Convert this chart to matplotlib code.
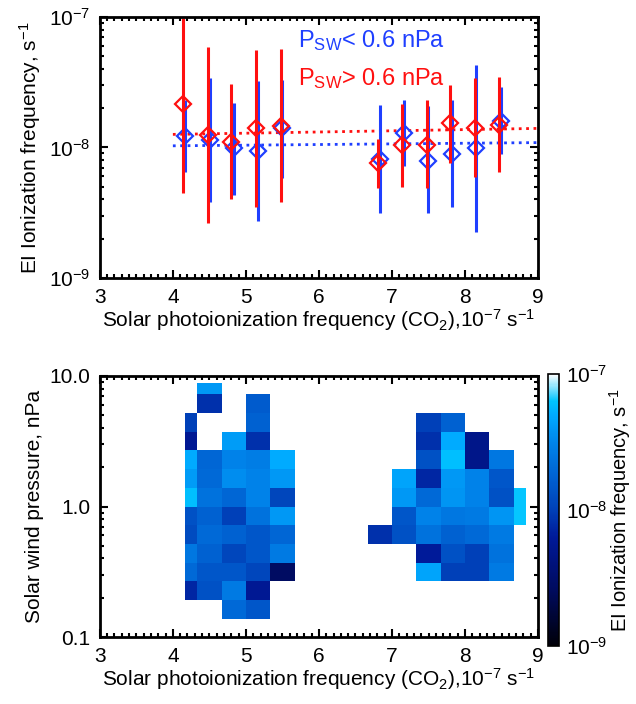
import numpy as np
import matplotlib
matplotlib.use("Agg")
import matplotlib.pyplot as plt
from matplotlib.colors import LinearSegmentedColormap, LogNorm
from matplotlib.ticker import MultipleLocator, LogLocator, NullFormatter

plt.rcParams['font.family'] = ['Liberation Sans', 'DejaVu Sans']
plt.rcParams['mathtext.fontset'] = 'custom'
plt.rcParams['mathtext.rm'] = 'Liberation Sans'
plt.rcParams['mathtext.it'] = 'Liberation Sans'

# ---- top panel data ----
red_x = [4.14, 4.475, 4.80, 5.137, 5.475, 6.81, 7.133, 7.475, 7.80, 8.137, 8.47]
red_y = [2.14e-8, 1.25e-8, 1.11e-8, 1.40e-8, 1.46e-8, 7.57e-9, 1.04e-8, 1.04e-8, 1.53e-8, 1.42e-8, 1.49e-8]
red_hi = [9.8e-8, 5.86e-8, 3.07e-8, 5.6e-8, 5.65e-8, 1.17e-8, 2.14e-8, 2.31e-8, 3.01e-8, 3.39e-8, 3.45e-8]
red_lo = [4.45e-9, 2.62e-9, 4.0e-9, 3.5e-9, 3.8e-9, 4.87e-9, 5.0e-9, 4.87e-9, 7.57e-9, 5.9e-9, 6.5e-9]

blue_x = [4.17, 4.508, 4.84, 5.17, 5.50, 6.83, 7.16, 7.49, 7.82, 8.15, 8.49]
blue_y = [1.23e-8, 1.14e-8, 9.86e-9, 9.46e-9, 1.40e-8, 8.13e-9, 1.28e-8, 7.93e-9, 8.9e-9, 9.86e-9, 1.60e-8]
blue_hi = [2.31e-8, 3.39e-8, 2.2e-8, 3.25e-8, 3.29e-8, 2.12e-8, 2.29e-8, 2.06e-8, 2.29e-8, 4.29e-8, 2.89e-8]
blue_lo = [6.5e-9, 3.8e-9, 4.32e-9, 2.75e-9, 5.87e-9, 3.13e-9, 7.26e-9, 3.13e-9, 3.5e-9, 2.24e-9, 8.9e-9]

fit_x = [4.0, 9.0]
red_fit = [1.26e-8, 1.40e-8]
blue_fit = [1.03e-8, 1.09e-8]

# ---- bottom panel data ----
x_edges = [4.17, 4.33, 4.67, 5.0, 5.33, 5.67, 6.67, 7.0, 7.33, 7.67, 8.0, 8.33, 8.67, 8.84]
p_edges = [0.138, 0.192, 0.267, 0.371, 0.516, 0.72, 1.0, 1.39, 1.94, 2.69, 3.75, 5.21, 7.26, 8.8]
n = np.nan
# log10 of EI ionization frequency, rows from top (highest pressure) to bottom
log_freq = [
    [n, -7.40, n, n, n, n, n, n, n, n, n, n, n],
    [n, -8.08, n, -7.80, n, n, n, n, n, n, n, n, n],
    [-8.00, n, n, -7.76, n, n, n, n, -8.00, -7.76, n, n, n],
    [-8.24, n, -7.38, -8.08, n, n, n, n, -8.08, -7.30, -8.30, n, n],
    [-7.30, -7.72, -7.52, -7.56, -7.30, n, n, n, -7.88, -7.22, -8.30, -7.60, n],
    [-7.38, -7.70, -7.46, -7.52, -7.40, n, n, -7.34, -8.14, -7.40, -7.52, -7.84, n],
    [-7.22, -7.64, -7.72, -7.52, -7.96, n, n, -7.40, -7.70, -7.42, -7.52, -7.88, -7.20],
    [-7.88, -7.76, -8.00, -7.64, -7.40, n, n, -7.84, -7.52, -7.60, -7.58, -7.42, -7.20],
    [-7.92, -7.70, -7.76, -7.84, -7.72, n, -8.08, -7.88, -7.64, -7.76, -7.70, -7.58, n],
    [-7.60, -7.76, -7.96, -7.84, -7.58, n, n, n, -8.20, -7.88, -8.00, -7.64, n],
    [-7.70, -7.84, -7.84, -7.96, -8.56, n, n, n, -7.34, -8.00, -8.00, -7.58, n],
    [-8.14, -7.88, -7.58, -8.24, n, n, n, n, n, n, n, n, n],
    [n, n, -7.70, -7.84, n, n, n, n, n, n, n, n, n],
]

blue_c = '#1f3fff'
red_c = '#ff1010'
xlabel = r'Solar photoionization frequency (CO$_2$),10$^{-7}$ s$^{-1}$'
fs = 15

cmap = LinearSegmentedColormap.from_list('ei', [
    (0.00, (0.0, 0.0, 0.03)),
    (0.20, (0.0, 0.04, 0.36)),
    (0.40, (0.0, 0.10, 0.60)),
    (0.50, (0.0, 0.25, 0.72)),
    (0.62, (0.0, 0.38, 0.82)),
    (0.75, (0.0, 0.52, 0.92)),
    (0.85, (0.0, 0.67, 1.0)),
    (0.90, (0.0, 0.77, 1.0)),
    (1.00, (1.0, 1.0, 1.0)),
])

fig = plt.figure(figsize=(6.36, 7.04), dpi=100)
ax1 = fig.add_axes([0.157, 0.605, 0.689, 0.371])
ax2 = fig.add_axes([0.157, 0.095, 0.689, 0.371])
cax = fig.add_axes([0.862, 0.082, 0.017, 0.387])


def style_axes(ax):
    for s in ax.spines.values():
        s.set_linewidth(2)
    ax.tick_params(which='both', direction='in', top=True, right=True, labelsize=fs, width=1.5)
    ax.tick_params(which='major', length=6, pad=7)
    ax.tick_params(which='minor', length=3)
    ax.set_xlim(3, 9)
    ax.xaxis.set_major_locator(MultipleLocator(1))
    ax.xaxis.set_minor_locator(MultipleLocator(0.1))
    ax.set_xlabel(xlabel, fontsize=fs, labelpad=0)


# top panel
ax1.set_yscale('log')
ax1.plot(fit_x, blue_fit, ':', color=blue_c, lw=2)
ax1.plot(fit_x, red_fit, ':', color=red_c, lw=2)
for xs, ys, lo, hi, c in [(blue_x, blue_y, blue_lo, blue_hi, blue_c), (red_x, red_y, red_lo, red_hi, red_c)]:
    ax1.vlines(xs, lo, hi, color=c, lw=2.2)
    ax1.plot(xs, ys, 'D', ms=8, mfc='none', mec=c, mew=1.6, ls='none')
ax1.set_ylim(1e-9, 1e-7)
ax1.yaxis.set_minor_locator(LogLocator(base=10, subs=np.arange(2, 10), numticks=20))
ax1.yaxis.set_minor_formatter(NullFormatter())
style_axes(ax1)
ax1.set_yticks([1e-9, 1e-8, 1e-7])
ax1.set_yticklabels([r'10$^{-9}$', r'10$^{-8}$', r'10$^{-7}$'])
ax1.set_ylabel(r'EI Ionization frequency, s$^{-1}$', fontsize=fs, labelpad=4)
ax1.text(0.452, 0.886, r'P$_{SW}$< 0.6 nPa', color=blue_c, fontsize=17, transform=ax1.transAxes)
ax1.text(0.452, 0.739, r'P$_{SW}$> 0.6 nPa', color=red_c, fontsize=17, transform=ax1.transAxes)

# bottom panel
grid = np.array(log_freq)[::-1]
vals = np.ma.masked_invalid(10.0 ** grid)
mesh = ax2.pcolormesh(x_edges, p_edges, vals, cmap=cmap, norm=LogNorm(1e-9, 1e-7))
ax2.set_yscale('log')
ax2.set_ylim(0.1, 10)
ax2.yaxis.set_minor_formatter(NullFormatter())
style_axes(ax2)
ax2.set_yticks([0.1, 1.0, 10.0])
ax2.set_yticklabels(['0.1', '1.0', '10.0'])
ax2.set_ylabel('Solar wind pressure, nPa', fontsize=fs, labelpad=4)

cb = fig.colorbar(mesh, cax=cax)
cb.outline.set_linewidth(1.2)
cb.set_ticks([1e-9, 1e-8, 1e-7])
cb.set_ticklabels([r'10$^{-9}$', r'10$^{-8}$', r'10$^{-7}$'])
cb.ax.tick_params(which='both', length=0, labelsize=fs, pad=5)
cb.ax.minorticks_off()
cb.set_label(r'EI Ionization frequency, s$^{-1}$', fontsize=14.5, labelpad=0)

fig.savefig('out.png', dpi=100)
